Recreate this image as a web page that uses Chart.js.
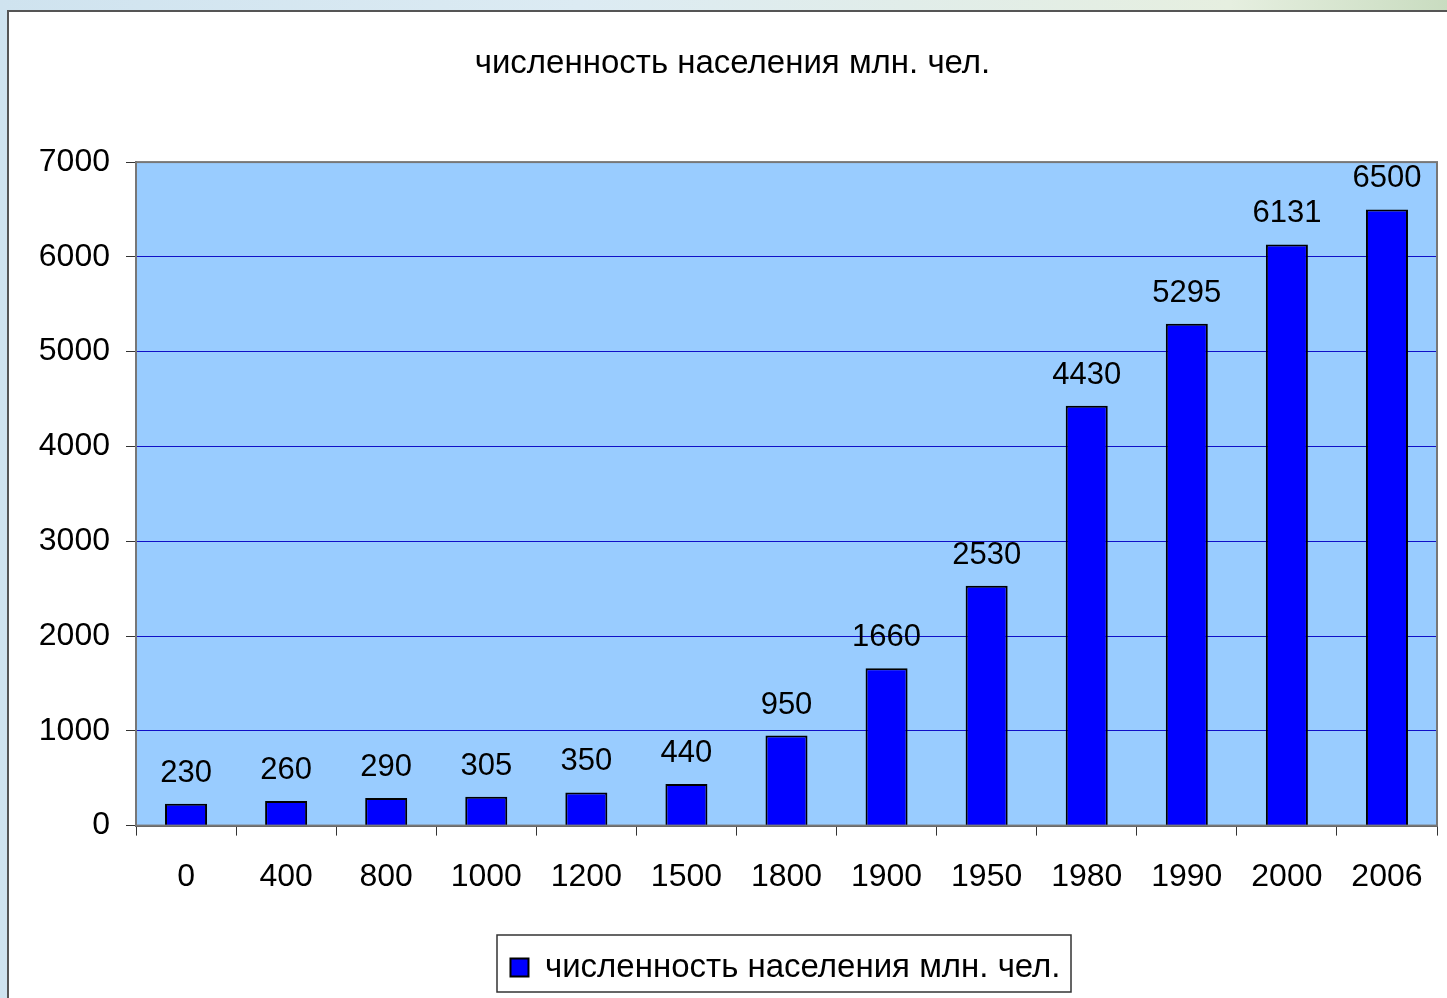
<!DOCTYPE html>
<html>
<head>
<meta charset="utf-8">
<script src="https://cdn.jsdelivr.net/npm/chart.js@4/dist/chart.umd.min.js"></script>
<style>
    html, body { margin: 0; padding: 0; }
    body {
        width: 1447px; height: 998px; overflow: hidden; position: relative;
        background: linear-gradient(90deg, #cfe3ef 0%, #dcebf3 40%, #e6efe0 85%, #c9dcc0 100%);
    }
    #frame {
        position: absolute; left: 7px; top: 10px; width: 1460px; height: 1000px;
        background: #ffffff; border: 2px solid #555555;
    }
    #wrap { position: absolute; left: 0; top: 0; width: 1447px; height: 998px; }
</style>
</head>
<body>
<div id="frame"></div>
<div id="wrap"><canvas id="grafico"></canvas></div>
<script>
    // datos del gráfico
    var categorias = ['0', '400', '800', '1000', '1200', '1500', '1800', '1900', '1950', '1980', '1990', '2000', '2006'];
    var poblacion = [230, 260, 290, 305, 350, 440, 950, 1660, 2530, 4430, 5295, 6131, 6500];
    var titulo = 'численность населения млн. чел.';
    var fuente = '"Liberation Sans", Arial, sans-serif';

    // fondo del área de trazado, marco y recuadro de la leyenda
    var fondoArea = {
        id: 'fondoArea',
        afterLayout: function (chart) {
            // leyenda y título del original no están centrados en el lienzo
            chart.legend.left += 67;
            chart.legend.right += 67;
            chart.titleBlock.left += 14;
            chart.titleBlock.right += 14;
        },
        beforeDraw: function (chart) {
            var a = chart.chartArea, ctx = chart.ctx;
            ctx.save();
            ctx.fillStyle = '#99ccff';
            ctx.fillRect(a.left, a.top, a.right - a.left, a.bottom - a.top);
            ctx.restore();
        },
        afterDraw: function (chart) {
            var a = chart.chartArea, ctx = chart.ctx;
            ctx.save();
            ctx.strokeStyle = '#777777';
            ctx.lineWidth = 2;
            ctx.strokeRect(a.left, a.top, a.right - a.left, a.bottom - a.top);
            var lg = chart.legend;
            ctx.strokeStyle = '#333333';
            ctx.lineWidth = 1.5;
            ctx.strokeRect(497, lg.top + 2, 574, lg.height - 4);
            ctx.restore();
        }
    };

    // etiquetas de valores sobre las barras
    var etiquetas = {
        id: 'etiquetas',
        afterDatasetsDraw: function (chart) {
            var ctx = chart.ctx;
            var meta = chart.getDatasetMeta(0);
            ctx.save();
            ctx.font = '31px ' + fuente;
            ctx.fillStyle = '#000000';
            ctx.textAlign = 'center';
            ctx.textBaseline = 'alphabetic';
            meta.data.forEach(function (bar, i) {
                ctx.fillText(String(poblacion[i]), bar.x, bar.y - 22);
            });
            ctx.restore();
        }
    };

    var ctx = document.getElementById('grafico').getContext('2d');
    var grafico = new Chart(ctx, {
        type: 'bar',
        data: {
            labels: categorias,
            datasets: [{
                label: titulo,
                data: poblacion,
                backgroundColor: '#0000ff',
                borderColor: '#000000',
                borderWidth: 2,
                categoryPercentage: 1,
                barPercentage: 0.42
            }]
        },
        options: {
            responsive: true,
            maintainAspectRatio: false,
            animation: false,
            layout: { padding: { left: 0, right: 10, top: 0, bottom: 4 } },
            plugins: {
                tooltip: { enabled: false },
                title: {
                    display: true,
                    text: titulo,
                    color: '#000000',
                    font: { family: fuente, size: 33, weight: 'normal' },
                    padding: { top: 44, bottom: 78.5 }
                },
                legend: {
                    position: 'bottom',
                    labels: {
                        color: '#000000',
                        font: { family: fuente, size: 33 },
                        boxWidth: 18,
                        boxHeight: 18,
                        padding: 18
                    }
                }
            },
            scales: {
                y: {
                    min: 0,
                    max: 7000,
                    ticks: {
                        stepSize: 1000,
                        color: '#000000',
                        font: { family: fuente, size: 32 },
                        padding: 16,
                        callback: function (v) { return String(v); }
                    },
                    grid: {
                        color: '#1010c8',
                        lineWidth: 1,
                        tickLength: 10,
                        tickColor: '#333333'
                    },
                    border: { color: '#555555', width: 2 },
                    afterFit: function (scale) { scale.width = 136; }
                },
                x: {
                    ticks: {
                        color: '#000000',
                        font: { family: fuente, size: 32 },
                        padding: 22,
                        maxRotation: 0,
                        autoSkip: false
                    },
                    grid: {
                        drawOnChartArea: false,
                        tickLength: 10,
                        tickColor: '#333333',
                        offset: true
                    },
                    border: { color: '#555555', width: 2 },
                    afterFit: function (scale) { scale.height = scale.height + 15; }
                }
            }
        },
        plugins: [fondoArea, etiquetas]
    });
</script>
</body>
</html>
